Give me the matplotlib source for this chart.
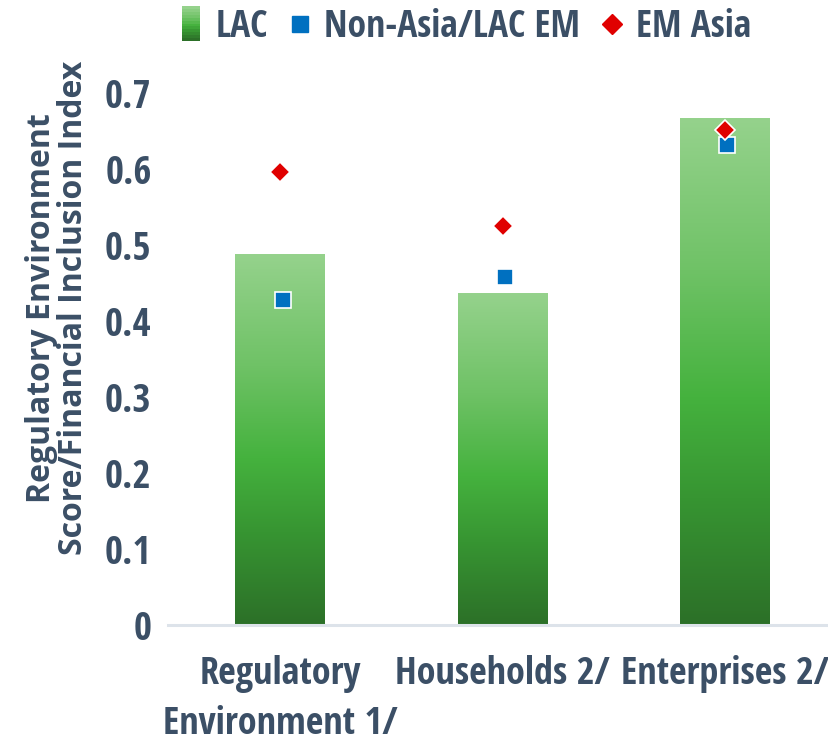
import numpy as np
import matplotlib.pyplot as plt
from matplotlib.colors import LinearSegmentedColormap
from matplotlib.legend_handler import HandlerBase
from matplotlib.patches import Rectangle
from matplotlib.lines import Line2D

categories = ['Regulatory\nEnvironment 1/', 'Households 2/', 'Enterprises 2/']
lac = [0.488, 0.436, 0.667]
non_asia_lac_em = [0.428, 0.458, 0.632]
em_asia = [0.596, 0.525, 0.651]

text_color = '#3b4f66'
plt.rcParams['font.family'] = ['Open Sans Condensed', 'DejaVu Sans']
plt.rcParams['font.weight'] = 'bold'

# bar fill: dark green at the base, bright just below the middle, pale at the top
green_cmap = LinearSegmentedColormap.from_list(
    'lac_green', [(0.0, '#2c7028'), (0.25, '#379532'), (0.45, '#45b23e'),
                  (0.7, '#6fc266'), (1.0, '#95d28c')])


class GradientHandler(HandlerBase):
    def create_artists(self, legend, orig_handle, xdescent, ydescent,
                       width, height, fontsize, trans):
        n = 12
        w = 13
        h = height * 1.3
        x0 = xdescent + (width - w) / 2
        y0 = -ydescent - 0.15 * height
        patches = []
        for i in range(n):
            r = Rectangle((x0, y0 + i * h / n), w, h / n + 0.3,
                          facecolor=green_cmap(i / (n - 1)), edgecolor='none',
                          transform=trans)
            patches.append(r)
        return patches


fig = plt.figure(figsize=(8.29, 7.43), dpi=100)
ax = fig.add_axes([0.203, 0.159, 0.80, 0.767])

x = np.arange(len(categories))
width = 0.405
grad = np.linspace(0, 1, 256).reshape(-1, 1)
for xi, h in zip(x, lac):
    ax.imshow(grad, extent=[xi - width / 2, xi + width / 2, 0, h], origin='lower',
              aspect='auto', cmap=green_cmap, zorder=2)

ax.plot(x + 0.01, non_asia_lac_em, linestyle='none', marker='s', markersize=12,
        color='#0070c0', markeredgecolor='white', markeredgewidth=1.2, zorder=3)
ax.plot(x, em_asia, linestyle='none', marker='D', markersize=10,
        color='#e00000', markeredgecolor='white', markeredgewidth=1.2, zorder=4)

ax.set_xlim(-0.505, 2.48)
ax.set_ylim(0, 0.75)
ax.set_yticks([0, 0.1, 0.2, 0.3, 0.4, 0.5, 0.6, 0.7])
ax.set_yticklabels(['0', '0.1', '0.2', '0.3', '0.4', '0.5', '0.6', '0.7'])
ax.set_xticks(x)
ax.set_xticklabels(categories, linespacing=1.4)
ax.tick_params(axis='both', length=0, labelcolor=text_color)
ax.tick_params(axis='x', labelsize=27.5, pad=22)
ax.tick_params(axis='y', labelsize=28, pad=12)

for side in ['top', 'right', 'left']:
    ax.spines[side].set_visible(False)
ax.spines['bottom'].set_color('#dde3ea')
ax.spines['bottom'].set_linewidth(2.2)
ax.spines['bottom'].set_zorder(5)

ax.set_ylabel('Regulatory Environment\nScore/Financial Inclusion Index',
              family=['Open Sans', 'DejaVu Sans'], fontsize=23, fontweight='bold',
              color=text_color, linespacing=0.95)
ax.yaxis.set_label_coords(-0.118, 0.556)

handles = [
    Rectangle((0, 0), 1, 1),
    Line2D([], [], linestyle='none', marker='s', markersize=11, color='#0070c0'),
    Line2D([], [], linestyle='none', marker='D', markersize=10, color='#e00000'),
]
fig.legend(handles, ['LAC', 'Non-Asia/LAC EM', 'EM Asia'],
           handler_map={Rectangle: GradientHandler()},
           loc='center', bbox_to_anchor=(0.563, 0.964), ncol=3, frameon=False,
           fontsize=27, labelcolor=text_color, handlelength=0.5, handletextpad=0.4,
           columnspacing=0.6)

fig.savefig('out.png', dpi=100)
